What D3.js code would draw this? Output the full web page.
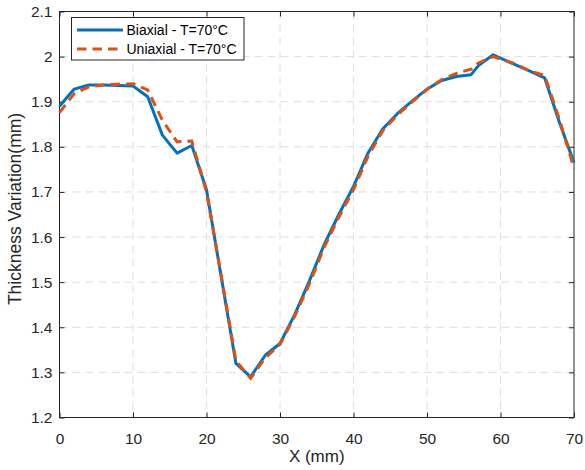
<!DOCTYPE html>
<html><head><meta charset="utf-8">
<script src="https://cdn.jsdelivr.net/npm/d3@7"></script>
<style>body{margin:0;background:#fff;}svg{display:block;font-family:"Liberation Sans",Arial,sans-serif;}</style>
</head><body><svg id="c" width="585" height="470"></svg>
<script>
const xTicks = [0,10,20,30,40,50,60,70];
const yTicks = [1.2,1.3,1.4,1.5,1.6,1.7,1.8,1.9,2.0,2.1];
const yTickLabels = ["1.2","1.3","1.4","1.5","1.6","1.7","1.8","1.9","2","2.1"];
const xValues = [0,2,4,6,8,10,12,14,16,18,20,22,24,26,28,30,32,34,36,38,40,42,44,46,48,50,52,54,56,57,59,62,64,66,68,70];
const biaxial = [1.890,1.928,1.937,1.937,1.936,1.935,1.911,1.826,1.786,1.803,1.705,1.512,1.320,1.290,1.338,1.364,1.428,1.503,1.583,1.650,1.712,1.787,1.840,1.874,1.902,1.928,1.947,1.956,1.960,1.980,2.004,1.982,1.968,1.953,1.855,1.765];
const uniaxial = [1.876,1.918,1.933,1.937,1.939,1.940,1.926,1.859,1.811,1.813,1.700,1.515,1.326,1.287,1.332,1.362,1.424,1.496,1.577,1.644,1.705,1.780,1.836,1.871,1.900,1.927,1.949,1.963,1.972,1.986,2.000,1.984,1.968,1.958,1.862,1.752];
const seriesNames = ["Biaxial - T=70°C","Uniaxial - T=70°C"];
const colors = ["#0072BD","#D95319"];

const svg = d3.select("#c");
const L=59.5, R=574, T=11.5, B=417.5;
const x = d3.scaleLinear().domain([0,70]).range([L,R]);
const y = d3.scaleLinear().domain([1.2,2.1]).range([B,T]);

// grid
const g = svg.append("g");
g.selectAll(".gx").data(xTicks.slice(1,-1)).enter().append("line")
 .attr("x1",d=>x(d)).attr("x2",d=>x(d)).attr("y1",T).attr("y2",B)
 .attr("stroke","#dedede").attr("stroke-width",1).attr("stroke-dasharray","8,5");
g.selectAll(".gy").data(yTicks.slice(1,-1)).enter().append("line")
 .attr("y1",d=>y(d)).attr("y2",d=>y(d)).attr("x1",L).attr("x2",R)
 .attr("stroke","#dedede").attr("stroke-width",1).attr("stroke-dasharray","8,5");

// axes
svg.append("g").attr("transform",`translate(0,${B})`)
 .call(d3.axisBottom(x).tickValues(xTicks).tickSize(-5).tickPadding(15).tickFormat(d3.format("d")));
svg.append("g").attr("transform",`translate(${L},0)`)
 .call(d3.axisLeft(y).tickValues(yTicks).tickSize(-5).tickPadding(7).tickFormat((d,i)=>yTickLabels[i]));
svg.append("g").attr("transform",`translate(0,${T})`)
 .call(d3.axisTop(x).tickValues(xTicks).tickSize(-5).tickFormat(""));
svg.append("g").attr("transform",`translate(${R},0)`)
 .call(d3.axisRight(y).tickValues(yTicks).tickSize(-5).tickFormat(""));
svg.selectAll(".domain").remove();
svg.selectAll(".tick line").attr("stroke","#262626");
svg.selectAll(".tick text").attr("fill","#262626").style("font-size","15.5px").style("font-family","'Liberation Sans',Arial,sans-serif");
svg.append("rect").attr("x",L).attr("y",T).attr("width",R-L).attr("height",B-T)
 .attr("fill","none").attr("stroke","#262626").attr("stroke-width",1);

// lines
const line = d3.line().x((d,i)=>x(xValues[i])).y(d=>y(d));
svg.append("path").datum(biaxial).attr("d",line).attr("fill","none")
 .attr("stroke",colors[0]).attr("stroke-width",3).attr("stroke-linejoin","round");
svg.append("path").datum(uniaxial).attr("d",line).attr("fill","none")
 .attr("stroke",colors[1]).attr("stroke-width",3).attr("stroke-dasharray","9.5,6");

// labels
svg.append("text").attr("x",(L+R)/2).attr("y",462).attr("text-anchor","middle")
 .attr("fill","#262626").style("font-size","17px").text("X (mm)");
svg.append("text").attr("transform",`translate(20.5,209) rotate(-90)`).attr("text-anchor","middle")
 .attr("fill","#262626").style("font-size","17.5px").text("Thickness Variation(mm)");

// legend
const lg = svg.append("g");
lg.append("rect").attr("x",71.5).attr("y",17.5).attr("width",172.5).attr("height",42.5)
 .attr("fill","#fff").attr("stroke","#262626").attr("stroke-width",1);
[0,1].forEach(i=>{
  const yy = 30 + i*19;
  lg.append("line").attr("x1",77).attr("x2",123).attr("y1",yy).attr("y2",yy)
   .attr("stroke",colors[i]).attr("stroke-width",3).attr("stroke-dasharray",i?"9.5,6":null);
  lg.append("text").attr("x",126.5).attr("y",yy+5).attr("fill","#000").style("font-size","14px").text(seriesNames[i]);
});
</script></body></html>
